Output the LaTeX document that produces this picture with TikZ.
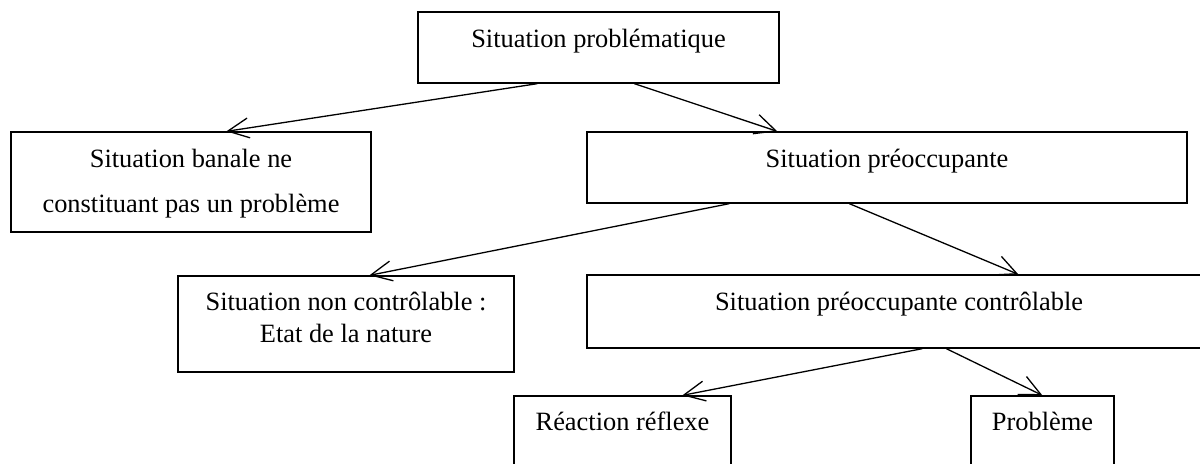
\documentclass[tikz,border=0pt]{standalone}
\usepackage{fontspec}
\setmainfont{Liberation Serif}
\usetikzlibrary{arrows.meta}
\begin{document}
\begin{tikzpicture}[x=0.5pt,y=-0.5pt,
  box/.style={draw, line width=0.65pt, inner sep=0pt, anchor=base,
              font=\fontsize{13.2}{22.5}\selectfont},
  arr/.style={line width=0.65pt, -{Straight Barb[length=10.5pt,width=10pt]}}]
\path[use as bounding box] (0,0) rectangle (1200,463);
\clip (0,0) rectangle (1200,463);
\node[box, minimum width=180.5pt, text height=17.5pt, text depth=18pt] (p) at (598.5,47) {Situation problématique};
\node[box, minimum width=180pt, text height=17.5pt, text depth=32.5pt] (b) at (191,167)
  {\begin{tabular}[t]{@{}c@{}}Situation banale ne\\constituant pas un problème\end{tabular}};
\node[box, minimum width=300pt, text height=17.5pt, text depth=18pt] (o) at (887,167) {Situation préoccupante};
\node[box, minimum width=168pt, text height=17pt, text depth=31pt, font=\fontsize{13.2}{16}\selectfont] (n) at (346,310)
  {\begin{tabular}[t]{@{}c@{}}Situation non contrôlable :\\Etat de la nature\end{tabular}};
\node[box, minimum width=312pt, text height=17.5pt, text depth=19pt] (c) at (899,310) {Situation préoccupante contrôlable};
\node[box, minimum width=108.5pt, text height=17pt, text depth=25pt] (r) at (622.5,430) {Réaction réflexe};
\node[box, minimum width=71.5pt, text height=17pt, text depth=25pt] (q) at (1042.5,430) {Problème};
\draw[arr] ([xshift=60pt]p.south west) -- ([xshift=108pt]b.north west);
\draw[arr] ([xshift=108.5pt]p.south west) -- ([xshift=95.5pt]o.north west);
\draw[arr] ([xshift=71.5pt]o.south west) -- ([xshift=96pt]n.north west);
\draw[arr] ([xshift=131.5pt]o.south west) -- ([xshift=216pt]c.north west);
\draw[arr] ([xshift=168pt]c.south west) -- ([xshift=84.5pt]r.north west);
\draw[arr] ([xshift=180pt]c.south west) -- ([xshift=36pt]q.north west);
\end{tikzpicture}
\end{document}
